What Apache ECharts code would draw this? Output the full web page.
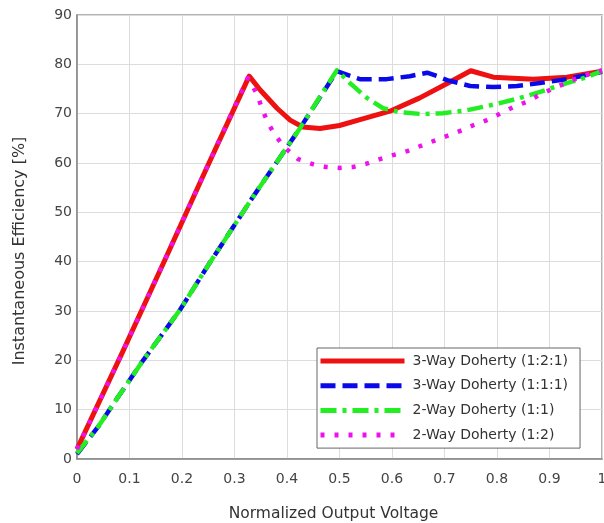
<!DOCTYPE html>
<html>
<head>
<meta charset="utf-8">
<script src="https://cdn.jsdelivr.net/npm/echarts@6/dist/echarts.min.js"></script>
<style>html,body{margin:0;padding:0;background:#fff;}#c{width:604px;height:523px;}</style>
</head>
<body>
<div id="c"></div>
<script>
const seriesNames = ["3-Way Doherty (1:2:1)", "3-Way Doherty (1:1:1)", "2-Way Doherty (1:1)", "2-Way Doherty (1:2)"];
const xTicks = [0, 0.1, 0.2, 0.3, 0.4, 0.5, 0.6, 0.7, 0.8, 0.9, 1];
const yTicks = [0, 10, 20, 30, 40, 50, 60, 70, 80, 90];

// 3-Way Doherty (1:2:1)
const red = [[0,2],[0.086,21.5],[0.168,40.5],[0.247,59],[0.328,77.6],[0.349,74.8],[0.381,71.1],[0.406,68.7],[0.43,67.3],[0.463,67],[0.5,67.6],[0.539,68.8],[0.596,70.5],[0.653,73.2],[0.705,76.1],[0.75,78.7],[0.793,77.4],[0.869,77],[0.933,77.4],[1,78.6]];
// 3-Way Doherty (1:1:1)
const blue = [[0,1],[0.04,6.5],[0.072,11.6],[0.126,20],[0.196,30.2],[0.25,39.3],[0.335,53.1],[0.425,67.1],[0.495,78.6],[0.539,77],[0.59,77],[0.634,77.6],[0.667,78.3],[0.686,77.6],[0.705,76.8],[0.749,75.6],[0.793,75.4],[0.838,75.6],[0.882,76.2],[0.933,77],[1,78.5]];
// 2-Way Doherty (1:1)
const green = [[0,1.2],[0.04,6.5],[0.072,11.6],[0.126,20],[0.196,30.2],[0.25,39.3],[0.335,53.1],[0.425,67.1],[0.495,78.8],[0.52,76.2],[0.552,73.2],[0.583,71.1],[0.615,70.3],[0.659,69.9],[0.697,70.1],[0.743,70.7],[0.792,71.8],[0.838,73],[0.882,74.4],[0.933,76.2],[0.971,77.4],[1,78.7]];
// 2-Way Doherty (1:2)
const magenta = [[0,2],[0.086,21.5],[0.168,40.5],[0.247,59],[0.325,77.2],[0.343,74],[0.352,71.1],[0.363,68.3],[0.377,65.7],[0.396,63.1],[0.421,60.8],[0.448,59.8],[0.474,59.2],[0.5,59],[0.526,59.2],[0.55,59.8],[0.577,60.8],[0.602,61.6],[0.629,62.4],[0.653,63.4],[0.68,64.5],[0.705,65.5],[0.73,66.5],[0.756,67.7],[0.781,68.7],[0.808,70.1],[0.832,71.4],[0.857,72.4],[0.884,74],[0.909,75.2],[0.935,76.4],[0.962,77.6],[1,78.8]];

const FONT = "'DejaVu Sans', sans-serif";
const chart = echarts.init(document.getElementById('c'), null, {renderer: 'canvas'});
const styles = [
  {color: '#ee1111', type: 'solid', z: 3, w: 5},
  {color: '#0a0ae8', type: [15, 7], z: 4, w: 4.5},
  {color: '#22ee22', type: [16, 6, 4, 6], z: 5, w: 4.5},
  {color: '#ee11ee', type: [4, 10], z: 6, w: 4.5}
];
const datas = [red, blue, green, magenta];
chart.setOption({
  animation: false,
  backgroundColor: '#fff',
  grid: {left: 77, top: 15, right: 2, bottom: 64, show: true, borderColor: '#999', borderWidth: 1.5, outerBoundsMode: 'none', containLabel: false},
  legend: {
    show: true,
    left: 317, top: 348,
    orient: 'vertical',
    itemWidth: 84, itemHeight: 16, itemGap: 6.7,
    backgroundColor: '#fff', borderColor: '#666', borderWidth: 1,
    padding: [4, 12, 4, 1],
    itemStyle: {opacity: 0},
    lineStyle: {width: 5},
    textStyle: {fontFamily: FONT, fontSize: 14, color: '#333', padding: [0, 0, 0, 3], lineHeight: 18},
    data: seriesNames
  },
  xAxis: {
    type: 'value', min: 0, max: 1, interval: 0.1,
    name: 'Normalized Output Voltage', nameLocation: 'middle', nameGap: 47,
    nameTextStyle: {fontFamily: FONT, fontSize: 15.5, color: '#333', padding: [0, 12, 0, 0]},
    axisLine: {show: true, lineStyle: {color: '#888', width: 1.5}},
    axisTick: {show: false},
    axisLabel: {fontFamily: FONT, fontSize: 14, color: '#444', margin: 13},
    splitLine: {show: true, lineStyle: {color: '#dcdcdc', width: 1}}
  },
  yAxis: {
    type: 'value', min: 0, max: 90, interval: 10,
    name: 'Instantaneous Efficiency [%]', nameLocation: 'middle', nameGap: 49,
    nameTextStyle: {fontFamily: FONT, fontSize: 16, color: '#333', padding: [0, 28, 0, 0]},
    axisLine: {show: true, lineStyle: {color: '#888', width: 1.5}},
    axisTick: {show: false},
    axisLabel: {fontFamily: FONT, fontSize: 14, color: '#444', margin: 5},
    splitLine: {show: true, lineStyle: {color: '#dcdcdc', width: 1}}
  },
  series: seriesNames.map(function (n, i) {
    return {
      name: n, type: 'line', data: datas[i], showSymbol: false, symbol: 'none',
      z: styles[i].z,
      lineStyle: {color: styles[i].color, width: styles[i].w, type: styles[i].type, cap: 'butt', join: 'round'},
      itemStyle: {color: styles[i].color}
    };
  })
});
</script>
</body>
</html>
